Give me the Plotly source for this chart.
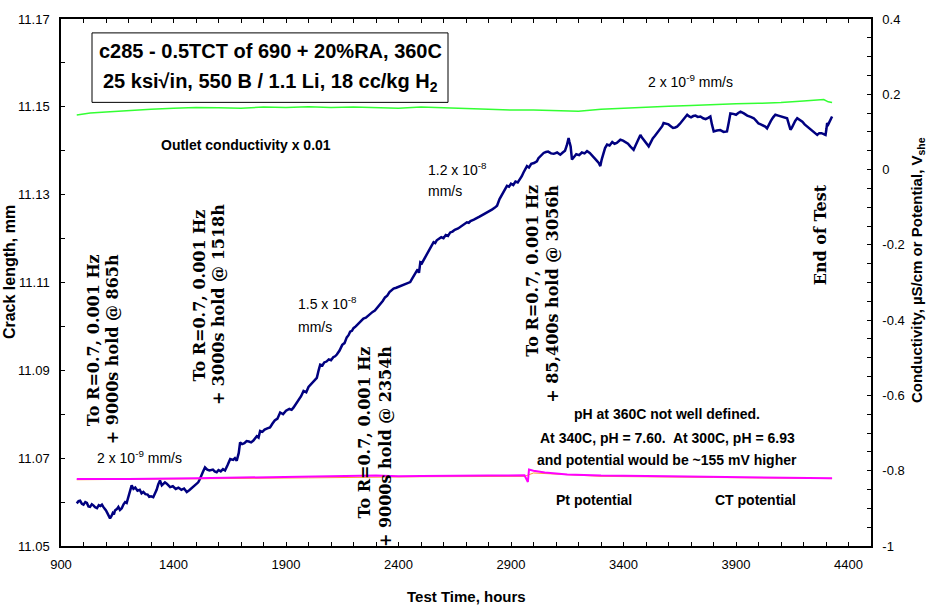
import plotly.graph_objects as go

# ---------------- data ----------------
crack_hours = [970, 978, 985, 993, 1000, 1008, 1015, 1022, 1029, 1037, 1045, 1052, 1060, 1068, 1075, 1082, 1088,
               1094, 1100, 1105, 1110, 1118, 1124, 1130, 1135, 1140, 1148, 1155, 1162, 1170, 1178, 1185, 1192,
               1199, 1207, 1214, 1222, 1230, 1240, 1250, 1258, 1266, 1275, 1285, 1292, 1300, 1310, 1318, 1325,
               1332, 1340, 1348, 1355, 1362, 1370, 1385, 1397, 1410, 1422, 1435, 1447, 1459, 1470, 1480, 1490,
               1500, 1510, 1518, 1525, 1530, 1540, 1550, 1560, 1575, 1583, 1592, 1600, 1610, 1620, 1629, 1640,
               1646, 1652, 1665, 1673, 1681, 1690, 1696, 1705, 1715, 1725, 1735, 1745, 1755, 1762, 1770, 1778,
               1785, 1795, 1805, 1817, 1829, 1840, 1850, 1862, 1874, 1887, 1900, 1915, 1925, 1933, 1945, 1955,
               1967, 1978, 1990, 2000, 2010, 2020, 2030, 2037, 2045, 2052, 2062, 2070, 2080, 2090, 2100, 2110,
               2118, 2126, 2138, 2150, 2160, 2170, 2178, 2185, 2193, 2200, 2210, 2220, 2232, 2244, 2255, 2265,
               2275, 2285, 2295, 2304, 2312, 2320, 2330, 2340, 2350, 2360, 2370, 2378, 2390, 2400, 2415, 2430,
               2440, 2452, 2462, 2470, 2478, 2485, 2491, 2497, 2504, 2510, 2520, 2530, 2543, 2556, 2563, 2570,
               2580, 2590, 2600, 2610, 2620, 2630, 2640, 2650, 2665, 2680, 2692, 2704, 2712, 2720, 2735, 2749,
               2760, 2770, 2782, 2793, 2804, 2815, 2827, 2838, 2849, 2860, 2871, 2882, 2891, 2900, 2910, 2920,
               2930, 2941, 2948, 2955, 2963, 2971, 2980, 2990, 3002, 3015, 3022, 3030, 3038, 3045, 3055, 3065,
               3078, 3090, 3105, 3119, 3130, 3140, 3148, 3156, 3160, 3165, 3171, 3180, 3190, 3203, 3215, 3227,
               3238, 3250, 3260, 3270, 3280, 3290, 3297, 3303, 3310, 3318, 3327, 3338, 3350, 3360, 3370, 3378,
               3386, 3398, 3410, 3420, 3430, 3438, 3445, 3452, 3460, 3468, 3475, 3482, 3490, 3500, 3512, 3520,
               3530, 3540, 3549, 3557, 3565, 3572, 3578, 3590, 3600, 3610, 3620, 3630, 3638, 3650, 3660, 3672,
               3683, 3692, 3700, 3710, 3720, 3730, 3742, 3754, 3765, 3776, 3786, 3793, 3801, 3815, 3830, 3845,
               3860, 3868, 3875, 3888, 3900, 3910, 3920, 3935, 3950, 3965, 3979, 3990, 4000, 4010, 4020, 4030,
               4038, 4046, 4055, 4065, 4075, 4088, 4100, 4114, 4127, 4135, 4142, 4148, 4155, 4163, 4172, 4184,
               4195, 4205, 4216, 4228, 4240, 4250, 4261, 4270, 4280, 4290, 4298, 4302, 4305, 4310, 4315, 4321,
               4327]
crack_mm = [11.0597, 11.0602, 11.0603, 11.0596, 11.0594, 11.0600, 11.0598, 11.0590, 11.0589, 11.0595, 11.0592,
            11.0588, 11.0586, 11.0593, 11.0591, 11.0594, 11.0589, 11.0586, 11.0581, 11.0576, 11.0570, 11.0563,
            11.0568, 11.0575, 11.0572, 11.0581, 11.0584, 11.0589, 11.0582, 11.0586, 11.0595, 11.0600, 11.0598,
            11.0611, 11.0622, 11.0638, 11.0630, 11.0633, 11.0626, 11.0628, 11.0620, 11.0623, 11.0618, 11.0617,
            11.0612, 11.0613, 11.0611, 11.0620, 11.0628, 11.0640, 11.0649, 11.0638, 11.0641, 11.0645, 11.0642,
            11.0634, 11.0636, 11.0630, 11.0633, 11.0628, 11.0631, 11.0623, 11.0627, 11.0631, 11.0636, 11.0640,
            11.0645, 11.0653, 11.0660, 11.0668, 11.0679, 11.0674, 11.0672, 11.0674, 11.0670, 11.0668, 11.0673,
            11.0670, 11.0675, 11.0672, 11.0684, 11.0690, 11.0698, 11.0696, 11.0700, 11.0694, 11.0712, 11.0736,
            11.0732, 11.0734, 11.0739, 11.0738, 11.0736, 11.0740, 11.0746, 11.0750, 11.0747, 11.0762, 11.0760,
            11.0765, 11.0768, 11.0770, 11.0779, 11.0786, 11.0790, 11.0804, 11.0800, 11.0808, 11.0812, 11.0810,
            11.0815, 11.0824, 11.0832, 11.0841, 11.0853, 11.0850, 11.0862, 11.0868, 11.0874, 11.0879, 11.0883,
            11.0900, 11.0913, 11.0911, 11.0918, 11.0920, 11.0925, 11.0923, 11.0930, 11.0932, 11.0936, 11.0945,
            11.0958, 11.0962, 11.0975, 11.0980, 11.0988, 11.0990, 11.0996, 11.1000, 11.1005, 11.1012, 11.1018,
            11.1020, 11.1025, 11.1028, 11.1033, 11.1036, 11.1041, 11.1046, 11.1052, 11.1058, 11.1066, 11.1070,
            11.1078, 11.1082, 11.1086, 11.1088, 11.1090, 11.1094, 11.1096, 11.1098, 11.1101, 11.1110, 11.1118,
            11.1124, 11.1130, 11.1122, 11.1146, 11.1144, 11.1150, 11.1160, 11.1170, 11.1180, 11.1192, 11.1190,
            11.1196, 11.1200, 11.1203, 11.1201, 11.1208, 11.1206, 11.1214, 11.1216, 11.1220, 11.1223, 11.1228,
            11.1232, 11.1237, 11.1236, 11.1240, 11.1243, 11.1248, 11.1250, 11.1253, 11.1256, 11.1259, 11.1262,
            11.1266, 11.1270, 11.1275, 11.1290, 11.1300, 11.1310, 11.1320, 11.1318, 11.1325, 11.1322, 11.1330,
            11.1328, 11.1335, 11.1342, 11.1350, 11.1358, 11.1365, 11.1362, 11.1370, 11.1372, 11.1376, 11.1383,
            11.1388, 11.1392, 11.1395, 11.1397, 11.1398, 11.1394, 11.1393, 11.1396, 11.1391, 11.1396, 11.1400,
            11.1412, 11.1429, 11.1420, 11.1410, 11.1380, 11.1385, 11.1392, 11.1390, 11.1396, 11.1394, 11.1399,
            11.1395, 11.1390, 11.1385, 11.1378, 11.1372, 11.1365, 11.1380, 11.1395, 11.1406, 11.1414, 11.1412,
            11.1420, 11.1416, 11.1418, 11.1421, 11.1425, 11.1423, 11.1420, 11.1416, 11.1410, 11.1406, 11.1402,
            11.1410, 11.1420, 11.1430, 11.1436, 11.1430, 11.1425, 11.1418, 11.1410, 11.1418, 11.1428, 11.1434,
            11.1440, 11.1446, 11.1450, 11.1456, 11.1463, 11.1462, 11.1460, 11.1456, 11.1452, 11.1453, 11.1455,
            11.1461, 11.1468, 11.1475, 11.1482, 11.1478, 11.1476, 11.1479, 11.1480, 11.1477, 11.1478, 11.1474,
            11.1472, 11.1475, 11.1478, 11.1460, 11.1444, 11.1446, 11.1447, 11.1443, 11.1444, 11.1465, 11.1485,
            11.1484, 11.1482, 11.1486, 11.1489, 11.1485, 11.1480, 11.1477, 11.1474, 11.1468, 11.1462, 11.1460,
            11.1458, 11.1455, 11.1451, 11.1460, 11.1468, 11.1476, 11.1482, 11.1480, 11.1478, 11.1476, 11.1474,
            11.1460, 11.1448, 11.1452, 11.1460, 11.1468, 11.1474, 11.1470, 11.1466, 11.1460, 11.1455, 11.1450,
            11.1445, 11.1440, 11.1436, 11.1440, 11.1440, 11.1438, 11.1436, 11.1450, 11.1463, 11.1460, 11.1465,
            11.1472, 11.1478]

cond_hours = [970, 1030, 1100, 1200, 1300, 1400, 1500, 1600, 1700, 1800, 1900, 2000, 2100, 2200, 2300, 2400,
              2500, 2600, 2700, 2800, 2900, 3000, 3100, 3200, 3300, 3400, 3500, 3600, 3700, 3800, 3900, 4000,
              4100, 4200, 4290, 4310, 4327]
cond_val = [0.145, 0.150, 0.153, 0.157, 0.160, 0.163, 0.165, 0.164, 0.163, 0.166, 0.165, 0.167, 0.165, 0.166,
            0.164, 0.163, 0.166, 0.165, 0.162, 0.160, 0.158, 0.158, 0.156, 0.155, 0.160, 0.163, 0.166, 0.168,
            0.170, 0.173, 0.175, 0.176, 0.178, 0.182, 0.186, 0.180, 0.178]

pt_hours = [970, 1200, 1500, 1800, 2100, 2300, 2400, 2500, 2800, 2960, 2975, 2980, 3000, 3050, 3150, 3300,
            3600, 3900, 4100, 4327]
pt_val = [-0.822, -0.822, -0.820, -0.818, -0.815, -0.813, -0.815, -0.814, -0.813, -0.812, -0.830, -0.797,
          -0.800, -0.805, -0.810, -0.813, -0.815, -0.817, -0.818, -0.820]

ct_hours = [970, 1500, 2000, 2500, 2960, 3000, 3300, 3800, 4327]
ct_val = [-0.824, -0.822, -0.819, -0.816, -0.815, -0.806, -0.815, -0.818, -0.821]

x_ticks = [900, 1400, 1900, 2400, 2900, 3400, 3900, 4400]
y_ticks = [11.05, 11.07, 11.09, 11.11, 11.13, 11.15, 11.17]
y2_ticks = [-1, -0.8, -0.6, -0.4, -0.2, 0, 0.2, 0.4]
y2_labels = ["-1", "-0.8", "-0.6", "-0.4", "-0.2", "0", "0.2", "0.4"]

# ---------------- figure ----------------
SANS = "Liberation Sans, Arial, sans-serif"
SERIF = "DejaVu Serif, serif"

fig = go.Figure()
fig.add_trace(go.Scatter(x=cond_hours, y=cond_val, yaxis="y2", mode="lines",
                         line=dict(color="#33FF33", width=1.5), hoverinfo="skip"))
fig.add_trace(go.Scatter(x=ct_hours, y=ct_val, yaxis="y2", mode="lines",
                         line=dict(color="#FF9933", width=1), hoverinfo="skip"))
fig.add_trace(go.Scatter(x=pt_hours, y=pt_val, yaxis="y2", mode="lines",
                         line=dict(color="#FF00FF", width=2), hoverinfo="skip"))
fig.add_trace(go.Scatter(x=crack_hours, y=crack_mm, yaxis="y", mode="lines",
                         line=dict(color="#000080", width=2.5), hoverinfo="skip"))

XR = [900, 4500]
YR = [11.05, 11.17]
Y2R = [-1, 0.4]
tickfont = dict(family=SANS, size=13, color="black")

fig.update_layout(
    width=929, height=609, showlegend=False,
    margin=dict(l=61, r=58, t=15, b=63),
    paper_bgcolor="white", plot_bgcolor="white",
    xaxis=dict(range=XR, tickvals=x_ticks, showgrid=False, zeroline=False,
               showline=True, linecolor="black", linewidth=1.5, mirror="ticks",
               ticks="inside", ticklen=4, tickcolor="black", tickwidth=1,
               minor=dict(dtick=100, tick0=900, ticks="inside", ticklen=4, tickcolor="black"),
               tickfont=tickfont, ticklabelstandoff=6),
    xaxis3=dict(range=XR, overlaying="x", anchor="y", side="bottom", tickvals=x_ticks,
                showticklabels=False, showgrid=False, zeroline=False, showline=False,
                ticks="outside", ticklen=4, tickcolor="black", mirror="ticks"),
    yaxis=dict(range=YR, tickvals=y_ticks, tickformat=".2f", showgrid=False, zeroline=False,
               showline=True, linecolor="black", linewidth=1.5,
               ticks="inside", ticklen=4, tickcolor="black",
               minor=dict(dtick=0.01, tick0=11.05, ticks="inside", ticklen=4, tickcolor="black"),
               tickfont=tickfont, ticklabelstandoff=7),
    yaxis3=dict(range=YR, overlaying="y", anchor="x", side="left", tickvals=y_ticks,
                showticklabels=False, showgrid=False, zeroline=False, showline=False,
                ticks="outside", ticklen=4, tickcolor="black"),
    yaxis2=dict(range=Y2R, overlaying="y", side="right", anchor="x", tickvals=y2_ticks, ticktext=y2_labels,
                showgrid=False, zeroline=False, showline=True, linecolor="black", linewidth=1.5,
                ticks="inside", ticklen=4, tickcolor="black",
                minor=dict(dtick=0.05, tick0=-1, ticks="inside", ticklen=4, tickcolor="black"),
                tickfont=tickfont, ticklabelstandoff=7),
    yaxis4=dict(range=Y2R, overlaying="y", side="right", anchor="x", tickvals=y2_ticks,
                showticklabels=False, showgrid=False, zeroline=False, showline=False,
                ticks="outside", ticklen=4, tickcolor="black"),
)

def px_x(p):
    return (p - 61) / 810.0

def px_y(p):
    return (546 - p) / 531.0

ann = []
def txt(text, x, y, size=14, bold=True, xanchor="center", yanchor="middle", family=SANS, angle=0):
    ann.append(dict(text=text, x=px_x(x), y=px_y(y), xref="paper", yref="paper", showarrow=False,
                    xanchor=xanchor, yanchor=yanchor, textangle=angle,
                    font=dict(family=family, size=size, color="black",
                              weight="bold" if bold else "normal")))

# axis titles
txt("Crack length, mm", 9, 270, size=16, angle=-90)
txt("Conductivity, µS/cm or Potential, V<sub>she</sub>", 917, 268, size=15, angle=-90)
txt("Test Time, hours", 466, 597, size=15)

# title box
fig.add_shape(type="rect", xref="paper", yref="paper", x0=px_x(92), x1=px_x(448), y0=px_y(99), y1=px_y(29),
              line=dict(color="black", width=1), fillcolor="white", layer="above")
txt("c285 - 0.5TCT of 690 + 20%RA, 360C", 270, 47, size=20)
txt("25 ksi√in, 550 B / 1.1 Li, 18 cc/kg H<sub>2</sub>", 270, 79, size=20)

txt("Outlet conductivity x 0.01", 246, 142, size=14)
txt("2 x 10<sup>-9</sup> mm/s", 690, 77, size=14, bold=False)
txt("1.2 x 10<sup>-8</sup>", 426, 166, size=14, bold=False, xanchor="left")
txt("mm/s", 426, 188, size=14, bold=False, xanchor="left")
txt("1.5 x 10<sup>-8</sup>", 296, 301, size=14, bold=False, xanchor="left")
txt("mm/s", 296, 325, size=14, bold=False, xanchor="left")
txt("2 x 10<sup>-9</sup> mm/s", 95, 456, size=14, bold=False, xanchor="left")

txt("pH at 360C not well defined.", 667, 413, size=14)
txt("At 340C, pH = 7.60.  At 300C, pH = 6.93", 667, 437, size=14)
txt("and potential would be ~155 mV higher", 667, 459, size=14)
txt("Pt potential", 594, 500, size=14)
txt("CT potential", 755, 500, size=14)

# rotated serif notes
txt("To R=0.7, 0.001 Hz", 93, 250, size=16, family=SERIF, angle=-90, yanchor="top")
txt("+ 9000s hold @ 865h", 112, 250, size=16, family=SERIF, angle=-90, yanchor="top")
txt("To R=0.7, 0.001 Hz", 200, 205, size=16, family=SERIF, angle=-90, yanchor="top")
txt("+ 3000s hold @ 1518h", 218, 200, size=16, family=SERIF, angle=-90, yanchor="top")
txt("To R=0.7, 0.001 Hz", 365, 343, size=16, family=SERIF, angle=-90, yanchor="top")
txt("+ 9000s hold @ 2354h", 385, 343, size=16, family=SERIF, angle=-90, yanchor="top")
txt("To R=0.7, 0.001 Hz", 533, 180, size=16, family=SERIF, angle=-90, yanchor="top")
txt("+ 85,400s hold @ 3056h", 553, 180, size=16, family=SERIF, angle=-90, yanchor="top")
txt("End of Test", 820, 180, size=16, family=SERIF, angle=-90, yanchor="top")

fig.update_layout(annotations=ann)
fig.write_html("out.html")
